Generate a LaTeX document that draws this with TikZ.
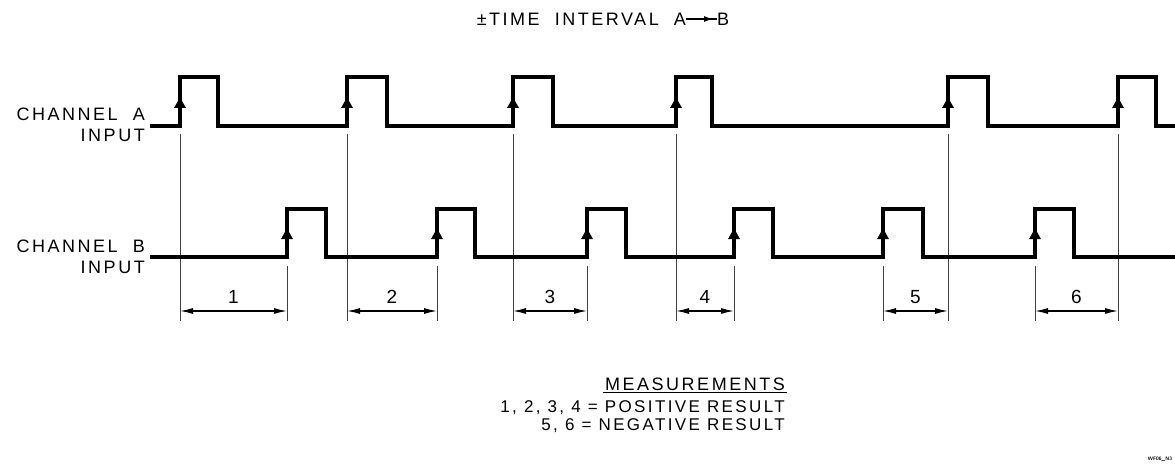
\documentclass[tikz,border=0pt]{standalone}
\usepackage{fontspec}
\usetikzlibrary{arrows.meta}
\newfontfamily\cadfont[LetterSpace=14]{Liberation Sans}
\begin{document}
\begin{tikzpicture}[x=1pt,y=-1pt,
  sig/.style={line width=3.2pt,line join=miter,line cap=butt},
  edgearrow/.style={line width=3.2pt,-{Triangle[width=11pt,length=11pt]}},
  ext/.style={line width=0.8pt,black!75},
  dim/.style={line width=1.3pt,{Latex[length=13pt,width=6pt]}-{Latex[length=13pt,width=6pt]}},
  lbl/.style={font=\cadfont\fontsize{18}{21}\selectfont,inner sep=0pt},
  leg/.style={font=\cadfont\fontsize{17}{20}\selectfont,inner sep=0pt},
  num/.style={font=\cadfont\fontsize{19}{20}\selectfont,inner sep=0pt}]
\useasboundingbox (0,0) rectangle (1175,468);
\fill[white] (0,0) rectangle (1175,468);
% title
\node[lbl,anchor=east] (t1) at (686,19) {±TIME\ \ INTERVAL\ \ A};
\node[lbl,anchor=west] (t2) at (717,19) {B};
\draw[line width=1.1pt] (t1.east) -- (t2.west);
\draw[line width=1.1pt,-{Latex[length=9pt,width=6pt]}] (t1.east) -- ([xshift=-4pt]t2.west);
% channel labels
\node[lbl,anchor=east,align=right] (chA) at (145,125) {CHANNEL\ \ A\\INPUT};
\node[lbl,anchor=east,align=right] (chB) at (145,257) {CHANNEL\ \ B\\INPUT};
% extension lines from channel A rising edges
\foreach \x in {180,347,513,676,948,1118}
  \draw[ext] (\x,134) -- (\x,321);
% extension lines from channel B rising edges
\foreach \x in {287,437,587,734,883,1035}
  \draw[ext] (\x,266) -- (\x,321);
% waveform A
\draw[sig] (150,126)
  -- (180,126) -- (180,77) -- (218,77) -- (218,126)
  -- (347,126) -- (347,77) -- (387,77) -- (387,126)
  -- (513,126) -- (513,77) -- (553,77) -- (553,126)
  -- (676,126) -- (676,77) -- (712,77) -- (712,126)
  -- (948,126) -- (948,77) -- (988,77) -- (988,126)
  -- (1118,126) -- (1118,77) -- (1156,77) -- (1156,126)
  -- (1175,126);
% waveform B
\draw[sig] (150,257)
  -- (287,257) -- (287,209) -- (326,209) -- (326,257)
  -- (437,257) -- (437,209) -- (475,209) -- (475,257)
  -- (587,257) -- (587,209) -- (626,209) -- (626,257)
  -- (734,257) -- (734,209) -- (773,209) -- (773,257)
  -- (883,257) -- (883,209) -- (923,209) -- (923,257)
  -- (1035,257) -- (1035,209) -- (1074,209) -- (1074,257)
  -- (1175,257);
% trigger arrows on rising edges
\foreach \x in {180,347,513,676,948,1118}
  \draw[edgearrow] (\x,114) -- (\x,97);
\foreach \x in {287,437,587,734,883,1035}
  \draw[edgearrow] (\x,245) -- (\x,228);
% measurement dimension lines
\foreach \a/\b/\n in {180/287/1,347/437/2,513/587/3,676/734/4,883/948/5,1035/1118/6}{
  \draw[dim] (\a,311) -- (\b,311);
  \node[num] (m\n) at ({(\a+\b)/2},297) {\n};
}
% legend
\node[lbl,inner sep=1.5pt] (meas) at (695,384) {MEASUREMENTS};
\draw[line width=1.1pt] (meas.south west) -- (meas.south east);
\node[leg,anchor=east] (pos) at (785,408) {1, 2, 3, 4 = POSITIVE RESULT};
\node[leg,anchor=east] (neg) at (785,426) {5, 6 = NEGATIVE RESULT};
\node[font=\sffamily\bfseries\fontsize{5}{6}\selectfont,inner sep=0pt] (wf) at (1160,459) {WF06\_N3};
\end{tikzpicture}
\end{document}
